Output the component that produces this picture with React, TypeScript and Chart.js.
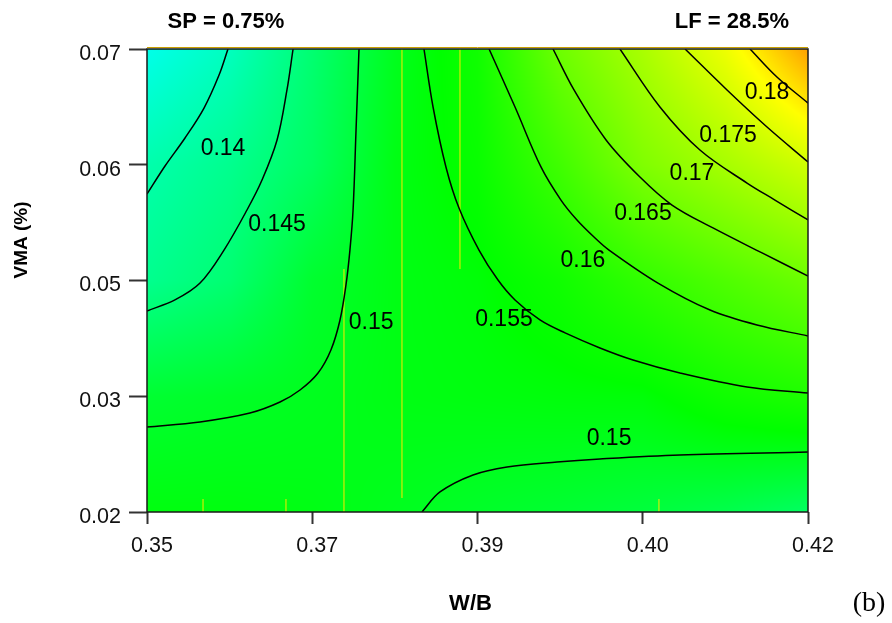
import React, { useEffect, useRef } from 'react';
import { Chart, registerables } from 'chart.js';

Chart.register(...registerables);

// ---------- axis ticks ----------
const xTickValues = [0, 1, 2, 3, 4];
const xTickLabels = ['0.35', '0.37', '0.39', '0.40', '0.42'];
const yTickValues = [0, 1, 2, 3, 4];
const yTickLabels = ['0.02', '0.03', '0.05', '0.06', '0.07'];

const xTitle = 'W/B';
const yTitle = 'VMA (%)';
const leftHeader = 'SP = 0.75%';
const rightHeader = 'LF = 28.5%';
const panelTag = '(b)';

// ---------- colour field ----------
const gridX = [0, 0.5, 1, 1.5, 2, 2.5, 3, 3.5, 4];
const gridY = [0, 1, 2, 3, 4];
const fieldRow0 = [0.151, 0.151, 0.1507, 0.15, 0.1493, 0.1487, 0.148, 0.147, 0.1455];
const fieldRow1 = [0.1487, 0.1494, 0.15, 0.1507, 0.151, 0.1513, 0.1515, 0.1536, 0.155];
const fieldRow2 = [0.1425, 0.1445, 0.1489, 0.1507, 0.1515, 0.1536, 0.157, 0.16, 0.163];
const fieldRow3 = [0.1405, 0.1425, 0.1456, 0.1507, 0.1528, 0.1585, 0.165, 0.169, 0.1732];
const fieldRow4 = [0.1364, 0.1393, 0.1445, 0.15, 0.1536, 0.1632, 0.1693, 0.1763, 0.186];
const fieldRows = [fieldRow0, fieldRow1, fieldRow2, fieldRow3, fieldRow4];

const paletteValues = [0.135, 0.152, 0.178, 0.186];
const paletteColors = [
  [0, 255, 255],
  [0, 255, 0],
  [255, 255, 0],
  [255, 160, 0],
];

// ---------- contour lines (ordered by W/B position) ----------
const c140 = [
  { x: 0.0, y: 2.747 }, { x: 0.109, y: 2.989 }, { x: 0.23, y: 3.231 },
  { x: 0.345, y: 3.49 }, { x: 0.436, y: 3.775 }, { x: 0.49, y: 4.0 },
];
const c145 = [
  { x: 0.0, y: 1.737 }, { x: 0.169, y: 1.832 }, { x: 0.321, y: 1.978 },
  { x: 0.466, y: 2.263 }, { x: 0.605, y: 2.609 }, { x: 0.696, y: 2.868 },
  { x: 0.787, y: 3.214 }, { x: 0.847, y: 3.646 }, { x: 0.884, y: 4.0 },
];
const c150a = [
  { x: 0.0, y: 0.734 }, { x: 0.321, y: 0.778 }, { x: 0.623, y: 0.855 },
  { x: 0.805, y: 0.95 }, { x: 0.926, y: 1.054 }, { x: 1.035, y: 1.201 },
  { x: 1.113, y: 1.4 }, { x: 1.168, y: 1.659 }, { x: 1.204, y: 1.961 },
  { x: 1.228, y: 2.263 }, { x: 1.247, y: 2.609 }, { x: 1.265, y: 3.3 },
  { x: 1.283, y: 4.0 },
];
const c150b = [
  { x: 1.664, y: 0.0 }, { x: 1.773, y: 0.173 }, { x: 1.973, y: 0.32 },
  { x: 2.179, y: 0.389 }, { x: 2.481, y: 0.432 }, { x: 2.741, y: 0.458 },
  { x: 3.225, y: 0.492 }, { x: 4.0, y: 0.518 },
];
const c155 = [
  { x: 1.676, y: 4.0 }, { x: 1.731, y: 3.499 }, { x: 1.809, y: 2.981 },
  { x: 1.888, y: 2.626 }, { x: 2.009, y: 2.263 }, { x: 2.124, y: 2.004 },
  { x: 2.227, y: 1.832 }, { x: 2.378, y: 1.659 }, { x: 2.53, y: 1.547 },
  { x: 2.741, y: 1.417 }, { x: 2.941, y: 1.313 }, { x: 3.225, y: 1.201 },
  { x: 3.631, y: 1.08 }, { x: 4.0, y: 1.028 },
];
const c160 = [
  { x: 2.07, y: 4.0 }, { x: 2.227, y: 3.499 }, { x: 2.384, y: 2.981 },
  { x: 2.505, y: 2.695 }, { x: 2.602, y: 2.523 }, { x: 2.705, y: 2.376 },
  { x: 2.796, y: 2.263 }, { x: 3.092, y: 1.978 }, { x: 3.407, y: 1.745 },
  { x: 3.691, y: 1.616 }, { x: 4.0, y: 1.521 },
];
const c165 = [
  { x: 2.457, y: 4.0 }, { x: 2.584, y: 3.646 }, { x: 2.778, y: 3.214 },
  { x: 2.983, y: 2.894 }, { x: 3.177, y: 2.652 }, { x: 3.425, y: 2.454 },
  { x: 3.722, y: 2.238 }, { x: 4.0, y: 2.039 },
];
const c170 = [
  { x: 2.862, y: 4.0 }, { x: 3.104, y: 3.499 }, { x: 3.346, y: 3.127 },
  { x: 3.631, y: 2.842 }, { x: 3.8, y: 2.695 }, { x: 4.0, y: 2.523 },
];
const c175 = [
  { x: 3.256, y: 4.0 }, { x: 3.51, y: 3.646 }, { x: 3.752, y: 3.326 }, { x: 4.0, y: 3.024 },
];
const c180 = [
  { x: 3.649, y: 4.0 }, { x: 3.812, y: 3.758 }, { x: 4.0, y: 3.533 },
];
const contourLines = [c140, c145, c150a, c150b, c155, c160, c165, c170, c175, c180];

// contour labels
const labelTexts = ['0.14', '0.145', '0.15', '0.155', '0.16', '0.165', '0.17', '0.175', '0.18', '0.15'];
const labelX = [0.46, 0.787, 1.356, 2.16, 2.638, 3.001, 3.298, 3.516, 3.752, 2.796];
const labelY = [3.145, 2.488, 1.641, 1.667, 2.177, 2.583, 2.929, 3.257, 3.629, 0.639];

// thin yellow strokes present in the original figure
const streak1 = [{ x: 1.192, y: 0 }, { x: 1.192, y: 2.099 }];
const streak2 = [{ x: 1.543, y: 0.121 }, { x: 1.543, y: 4 }];
const streak3 = [{ x: 1.894, y: 2.099 }, { x: 1.894, y: 4 }];
const streak4 = [{ x: 0.339, y: 0 }, { x: 0.339, y: 0.112 }];
const streak5 = [{ x: 0.841, y: 0 }, { x: 0.841, y: 0.112 }];
const streak6 = [{ x: 3.098, y: 0 }, { x: 3.098, y: 0.112 }];
const streaks = [streak1, streak2, streak3, streak4, streak5, streak6];

const SANS = '"Liberation Sans", Arial, Helvetica, sans-serif';

function segIndex(arr: number[], v: number) {
  let i = 0;
  while (i < arr.length - 2 && v > arr[i + 1]) i++;
  return i;
}

function fieldAt(xv: number, yv: number) {
  const xc = Math.min(Math.max(xv, gridX[0]), gridX[gridX.length - 1]);
  const yc = Math.min(Math.max(yv, gridY[0]), gridY[gridY.length - 1]);
  const i = segIndex(gridX, xc);
  const j = segIndex(gridY, yc);
  const tx = (xc - gridX[i]) / (gridX[i + 1] - gridX[i]);
  const ty = (yc - gridY[j]) / (gridY[j + 1] - gridY[j]);
  const z00 = fieldRows[j][i], z10 = fieldRows[j][i + 1];
  const z01 = fieldRows[j + 1][i], z11 = fieldRows[j + 1][i + 1];
  return (z00 * (1 - tx) + z10 * tx) * (1 - ty) + (z01 * (1 - tx) + z11 * tx) * ty;
}

function colourFor(z: number) {
  if (z <= paletteValues[0]) return paletteColors[0];
  const n = paletteValues.length;
  if (z >= paletteValues[n - 1]) return paletteColors[n - 1];
  let k = 0;
  while (k < n - 2 && z > paletteValues[k + 1]) k++;
  const t = (z - paletteValues[k]) / (paletteValues[k + 1] - paletteValues[k]);
  const a = paletteColors[k], b = paletteColors[k + 1];
  return [a[0] + (b[0] - a[0]) * t, a[1] + (b[1] - a[1]) * t, a[2] + (b[2] - a[2]) * t];
}

const decorPlugin = {
  id: 'contourDecor',
  beforeDatasetsDraw(chart: any) {
    const { ctx, chartArea: a, scales } = chart;
    const xs = scales.x, ys = scales.y;
    const w = Math.round(a.right - a.left);
    const h = Math.round(a.bottom - a.top);
    const off = document.createElement('canvas');
    off.width = w;
    off.height = h;
    const octx = off.getContext('2d')!;
    const img = octx.createImageData(w, h);
    for (let j = 0; j < h; j++) {
      const yv = ys.getValueForPixel(a.top + j + 0.5);
      for (let i = 0; i < w; i++) {
        const xv = xs.getValueForPixel(a.left + i + 0.5);
        const c = colourFor(fieldAt(xv, yv));
        const p = (j * w + i) * 4;
        img.data[p] = c[0];
        img.data[p + 1] = c[1];
        img.data[p + 2] = c[2];
        img.data[p + 3] = 255;
      }
    }
    octx.putImageData(img, 0, 0);
    ctx.drawImage(off, a.left, a.top);
  },
  afterDatasetsDraw(chart: any) {
    const { ctx, chartArea: a, scales } = chart;
    const xs = scales.x, ys = scales.y;
    ctx.save();
    // contour labels
    ctx.fillStyle = '#000';
    ctx.font = `23px ${SANS}`;
    ctx.textAlign = 'center';
    ctx.textBaseline = 'middle';
    labelTexts.forEach((t, k) => {
      ctx.fillText(t, xs.getPixelForValue(labelX[k]), ys.getPixelForValue(labelY[k]) + 1);
    });
    // top edge tint
    ctx.strokeStyle = '#C8A000';
    ctx.lineWidth = 1;
    ctx.beginPath();
    ctx.moveTo(a.left, a.top - 1.5);
    ctx.lineTo(a.right, a.top - 1.5);
    ctx.stroke();
    // frame
    ctx.strokeStyle = '#1a1a1a';
    ctx.lineWidth = 1.5;
    ctx.strokeRect(a.left, a.top, a.right - a.left, a.bottom - a.top);
    // headers
    ctx.font = `bold 22px ${SANS}`;
    ctx.fillText(leftHeader, 226, 22);
    ctx.fillText(rightHeader, 732, 22);
    // axis titles
    ctx.fillText(xTitle, (a.left + a.right) / 2 - 7, 604);
    ctx.save();
    ctx.translate(22, 240);
    ctx.rotate(-Math.PI / 2);
    ctx.font = `bold 19px ${SANS}`;
    ctx.fillText(yTitle, 0, 0);
    ctx.restore();
    // panel tag
    ctx.font = '28px "Liberation Serif", "Times New Roman", serif';
    ctx.fillText(panelTag, 869, 604);
    ctx.restore();
  },
};

export default function App() {
  const ref = useRef<HTMLCanvasElement | null>(null);
  useEffect(() => {
    if (!ref.current) return;
    const datasets: any[] = [];
    contourLines.forEach((pts) => {
      datasets.push({
        data: pts,
        borderColor: '#000',
        borderWidth: 1.5,
        pointRadius: 0,
        tension: 0.35,
        fill: false,
      });
    });
    streaks.forEach((pts) => {
      datasets.push({
        data: pts,
        borderColor: '#FFE600',
        borderWidth: 1,
        pointRadius: 0,
        tension: 0,
        fill: false,
      });
    });
    const chart = new Chart(ref.current, {
      type: 'line',
      data: { datasets },
      plugins: [decorPlugin],
      options: {
        responsive: false,
        animation: false,
        layout: { padding: { top: 49, right: 84, left: 0, bottom: 0 } },
        plugins: { legend: { display: false }, tooltip: { enabled: false }, title: { display: false } },
        scales: {
          x: {
            type: 'linear',
            min: 0,
            max: 4,
            afterBuildTicks: (s: any) => {
              s.ticks = xTickValues.map((v) => ({ value: v }));
            },
            afterFit: (s: any) => {
              s.height = 111;
            },
            ticks: {
              autoSkip: false,
              maxRotation: 0,
              padding: 9,
              labelOffset: 5,
              color: '#111',
              font: { family: SANS, size: 21.5 },
              callback: (v: any) => xTickLabels[xTickValues.indexOf(Number(v))],
            },
            grid: { drawOnChartArea: false, drawTicks: true, tickLength: 12, tickWidth: 2, tickColor: '#333' },
            border: { display: false },
          },
          y: {
            type: 'linear',
            min: 0,
            max: 4,
            afterBuildTicks: (s: any) => {
              s.ticks = yTickValues.map((v) => ({ value: v }));
            },
            afterFit: (s: any) => {
              s.width = 147;
            },
            ticks: {
              autoSkip: false,
              padding: 8,
              labelOffset: 5,
              color: '#111',
              font: { family: SANS, size: 21.5 },
              callback: (v: any) => yTickLabels[yTickValues.indexOf(Number(v))],
            },
            grid: { drawOnChartArea: false, drawTicks: true, tickLength: 18, tickWidth: 2, tickColor: '#333' },
            border: { display: false },
          },
        },
      },
    });
    return () => chart.destroy();
  }, []);
  return (
    <div style={{ position: 'fixed', left: 0, top: 0, width: 892, height: 623, background: '#fff' }}>
      <canvas ref={ref} width={892} height={623} style={{ display: 'block' }} />
    </div>
  );
}
